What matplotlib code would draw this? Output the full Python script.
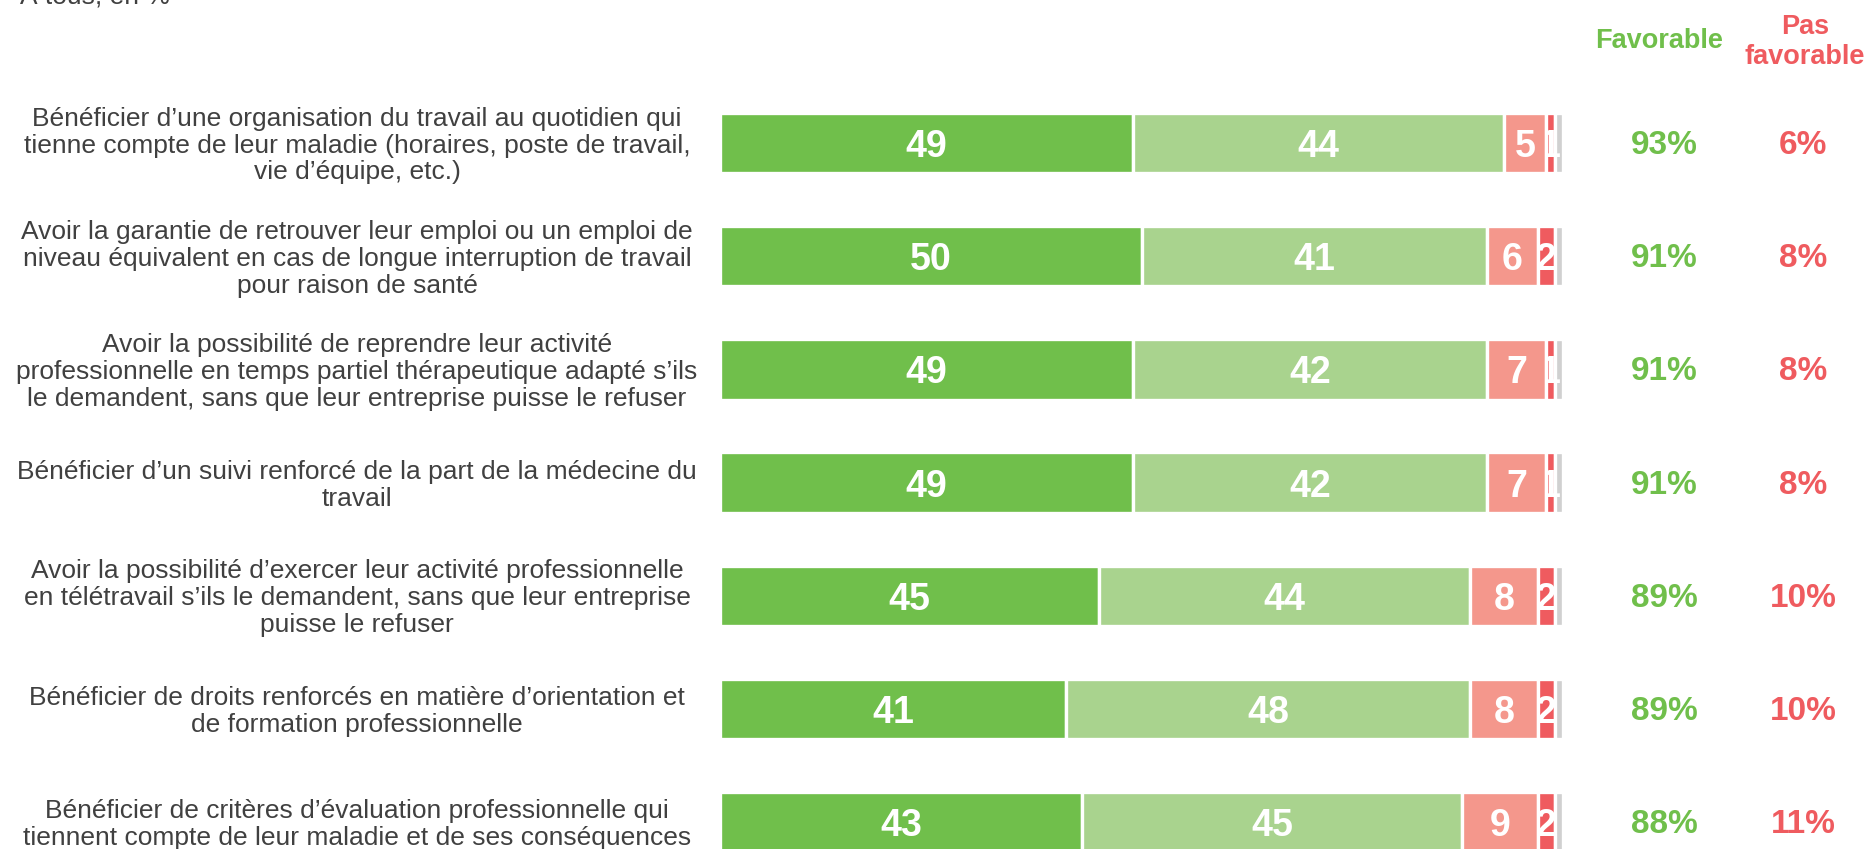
import numpy as np
import matplotlib.pyplot as plt
from matplotlib.transforms import Bbox, TransformedBbox, blended_transform_factory, offset_copy

plt.rcParams['font.family'] = ['Liberation Sans', 'DejaVu Sans']

# data
items = [
    "Bénéficier d’une organisation du travail au quotidien qui\ntienne compte de leur maladie (horaires, poste de travail,\nvie d’équipe, etc.)",
    "Avoir la garantie de retrouver leur emploi ou un emploi de\nniveau équivalent en cas de longue interruption de travail\npour raison de santé",
    "Avoir la possibilité de reprendre leur activité\nprofessionnelle en temps partiel thérapeutique adapté s’ils\nle demandent, sans que leur entreprise puisse le refuser",
    "Bénéficier d’un suivi renforcé de la part de la médecine du\ntravail",
    "Avoir la possibilité d’exercer leur activité professionnelle\nen télétravail s’ils le demandent, sans que leur entreprise\npuisse le refuser",
    "Bénéficier de droits renforcés en matière d’orientation et\nde formation professionnelle",
    "Bénéficier de critères d’évaluation professionnelle qui\ntiennent compte de leur maladie et de ses conséquences",
]
tres_fav = [49, 50, 49, 49, 45, 41, 43]
plutot_fav = [44, 41, 42, 42, 44, 48, 45]
plutot_pas = [5, 6, 7, 7, 8, 8, 9]
pas_du_tout = [1, 2, 1, 1, 2, 2, 2]
nsp = [1, 1, 1, 1, 1, 1, 1]
favorable = ["93%", "91%", "91%", "91%", "89%", "89%", "88%"]
pas_favorable = ["6%", "8%", "8%", "8%", "10%", "10%", "11%"]

series = [tres_fav, plutot_fav, plutot_pas, pas_du_tout, nsp]
colors = ['#70BF4B', '#A9D38E', '#F4978C', '#EF5B5F', '#D0D0D0']
show_label = [True, True, True, True, False]

W, H = 1868, 849
fig = plt.figure(figsize=(W / 100, H / 100), dpi=100)
ax = fig.add_axes([720 / W, 0, 843 / W, 1])
ax.set_xlim(0, 100)
top_px, step_px = 143, 113.2
ax.set_ylim((H - top_px) / step_px, -top_px / step_px)
ax.axis('off')

# matplotlib's va='center' sits a bit high, nudge texts down
num_tr = offset_copy(ax.transData, fig=fig, y=-4, units='dots')

y = np.arange(len(items))
left = np.zeros(len(items))
for vals, col, lab in zip(series, colors, show_label):
    vals = np.array(vals, dtype=float)
    bars = ax.barh(y, vals, left=left, height=0.535, color=col,
                   edgecolor='white', linewidth=2.4)
    if lab:
        for b, v in zip(bars, vals):
            t = ax.text(b.get_x() + b.get_width() / 2, b.get_y() + b.get_height() / 2,
                        f"{int(v)}", ha='center', va='center', color='white',
                        fontsize=27, fontweight='bold', transform=num_tr)
            clip = Bbox([[b.get_x(), b.get_y()], [100, b.get_y() + b.get_height()]])
            t.set_clip_box(TransformedBbox(clip, ax.transData))
            t.set_clip_on(True)
    left += vals

btr = blended_transform_factory(fig.transFigure, ax.transData)
lab_tr = offset_copy(btr, fig=fig, y=-2.5, units='dots')
for i, txt in enumerate(items):
    ax.text(357 / W, i, txt, transform=lab_tr, ha='center', va='center',
            fontsize=19, color='#404040', linespacing=1.15)
    ax.text(1664 / W, i, favorable[i], transform=lab_tr, ha='center', va='center',
            fontsize=24, fontweight='bold', color='#70BF4B')
    ax.text(1803 / W, i, pas_favorable[i], transform=lab_tr, ha='center', va='center',
            fontsize=24, fontweight='bold', color='#EF5B5F')

fig.text(1659 / W, 1 - 41 / H, "Favorable", ha='center', va='center',
         fontsize=19.5, fontweight='bold', color='#70BF4B')
fig.text(1805 / W, 1 - 42 / H, "Pas\nfavorable", ha='center', va='center',
         fontsize=19.5, fontweight='bold', color='#EF5B5F', linespacing=1.2)
fig.text(20 / W, 1 - 5 / H, "À tous, en %", ha='left', va='baseline',
         fontsize=19, color='#404040')

fig.savefig('out.png', dpi=100)
